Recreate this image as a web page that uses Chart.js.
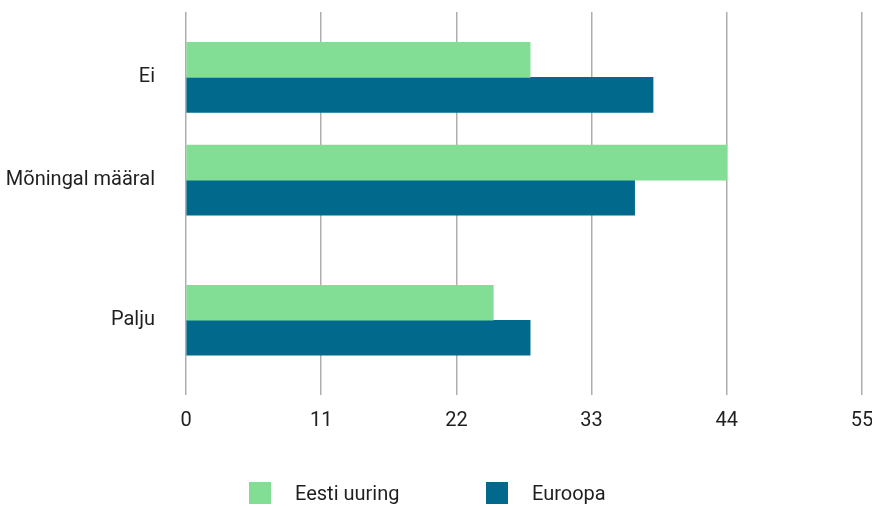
<!DOCTYPE html>
<html>
<head>
<meta charset="utf-8">
<script src="https://cdn.jsdelivr.net/npm/chart.js@4.4.1/dist/chart.umd.min.js"></script>
<style>
    html, body { margin: 0; padding: 0; background: #fff; }
    #wrap { position: relative; width: 872px; height: 506px; }
    #legend {
        position: absolute; left: 249px; top: 482px;
        display: flex; font-family: Roboto, sans-serif; font-size: 20px; color: #1f1f1f;
    }
    .item { display: flex; align-items: center; width: 237px; height: 22px; }
    .swatch { width: 22px; height: 22px; margin-right: 24px; }
</style>
</head>
<body>
<div id="wrap">
    <canvas id="chart" width="872" height="506"></canvas>
    <div id="legend"></div>
</div>
<script>
const categories = ['Ei', 'Mõningal määral', 'Palju'];
const seriesNames = ['Eesti uuring', 'Euroopa'];
const eestiValues = [28, 44, 25];
const euroopaValues = [38, 36.5, 28];
const xTicks = [0, 11, 22, 33, 44, 55];

// the rows are not evenly spaced in the original, so they sit on a finer grid of slots
const slotCount = 42;
const rowSlots = [7, 18, 33];
const colors = ['#82dd95', '#00698c'];

function spread(values) {
    const out = new Array(slotCount).fill(null);
    rowSlots.forEach((s, i) => { out[s] = values[i]; });
    return out;
}
const slotLabels = spread(categories).map(v => v || '');

const ctx = document.getElementById('chart').getContext('2d');
new Chart(ctx, {
    type: 'bar',
    data: {
        labels: slotLabels,
        datasets: [
            { label: seriesNames[0], data: spread(eestiValues), backgroundColor: colors[0] },
            { label: seriesNames[1], data: spread(euroopaValues), backgroundColor: colors[1] }
        ]
    },
    options: {
        indexAxis: 'y',
        responsive: false,
        animation: false,
        barThickness: 35,
        layout: { padding: { top: 12, right: 0, bottom: 59, left: 0 } },
        plugins: { legend: { display: false }, tooltip: { enabled: false } },
        scales: {
            x: {
                min: 0,
                max: 55,
                afterBuildTicks: scale => { scale.ticks = xTicks.map(v => ({ value: v })); },
                afterFit: scale => { scale.paddingLeft = 0; scale.paddingRight = 10; },
                grid: { color: '#adadad', lineWidth: 1.5, drawTicks: false },
                border: { display: false },
                ticks: { padding: 14, color: '#1f1f1f', font: { family: 'Roboto', size: 20 } }
            },
            y: {
                offset: false,
                grid: { display: false, drawTicks: false },
                border: { display: false },
                afterFit: scale => {
                    scale.width = 186;
                    scale.paddingTop = 0;
                    scale.paddingBottom = 0;
                },
                ticks: { autoSkip: false, padding: 31, color: '#1f1f1f', font: { family: 'Roboto', size: 20 } }
            }
        }
    }
});

document.getElementById('legend').innerHTML = seriesNames.map((name, i) => `
    <div class="item"><span class="swatch" style="background:${colors[i]}"></span>${name}</div>
`).join('');
</script>
</body>
</html>
